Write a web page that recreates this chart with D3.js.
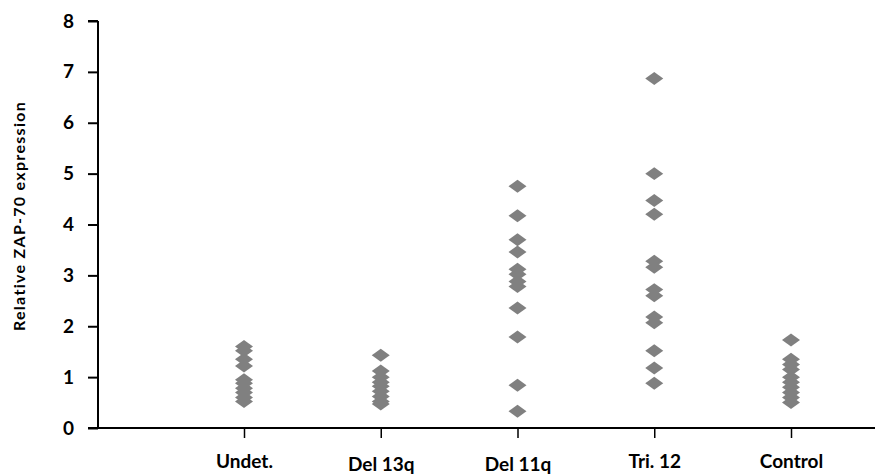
<!DOCTYPE html>
<html>
<head>
<meta charset="utf-8">
<script src="https://cdn.jsdelivr.net/npm/d3@7.9.0/dist/d3.min.js"></script>
<style>
  body { margin: 0; background: #fff; }
  svg { display: block; font-family: Lato, "Open Sans", sans-serif; font-weight: bold; }
</style>
</head>
<body>
<svg width="875" height="476"></svg>
<script>
// groups on the x axis
const categories = ['Undet.', 'Del 13q', 'Del 11q', 'Tri. 12', 'Control'];

// relative ZAP-70 expression per group
const undet = [1.6, 1.52, 1.35, 1.22, 0.95, 0.88, 0.78, 0.7, 0.6, 0.52];
const del13q = [1.43, 1.12, 1.0, 0.9, 0.82, 0.72, 0.62, 0.52, 0.47];
const del11q = [4.75, 4.17, 3.7, 3.46, 3.12, 3.02, 2.88, 2.78, 2.36, 1.79, 0.84, 0.33];
const tri12 = [6.87, 5.0, 4.47, 4.2, 3.28, 3.16, 2.72, 2.6, 2.18, 2.07, 1.52, 1.18, 0.88];
const control = [1.73, 1.35, 1.25, 1.15, 1.0, 0.9, 0.8, 0.7, 0.6, 0.5];

const yTicks = [0, 1, 2, 3, 4, 5, 6, 7, 8];
const yTitle = 'Relative ZAP-70 expression';

const groups = [undet, del13q, del11q, tri12, control];
let points = [];
groups.forEach((vals, i) => {
  vals.forEach(v => points.push({ cat: categories[i], value: v }));
});

const svg = d3.select('svg');
const x = d3.scalePoint().domain(categories).range([244, 791]);
const y = d3.scaleLinear().domain([0, 8]).range([428, 21]);

// y axis
const yAxis = svg.append('g')
  .attr('transform', 'translate(98,0)')
  .call(d3.axisLeft(y).tickValues(yTicks).tickSize(10).tickSizeOuter(0).tickPadding(14));
yAxis.select('.domain').attr('stroke', '#000').attr('stroke-width', 2)
  .attr('d', `M0,${y(8)}H-10M0,${y(8)}V${y(0)}`);
yAxis.selectAll('.tick line').attr('stroke', '#000').attr('stroke-width', 2);
yAxis.selectAll('.tick text')
  .attr('font-size', 19)
  .attr('font-family', 'Lato, sans-serif')
  .attr('font-weight', 'bold')
  .attr('fill', '#000');

// x axis, line runs to the right edge
svg.append('line')
  .attr('x1', 88).attr('x2', 875)
  .attr('y1', y(0)).attr('y2', y(0))
  .attr('stroke', '#000').attr('stroke-width', 2);

const xAxis = svg.append('g')
  .attr('transform', `translate(0,${y(0)})`)
  .call(d3.axisBottom(x).tickSize(10).tickPadding(17));
xAxis.select('.domain').remove();
xAxis.selectAll('.tick line').attr('stroke', '#000').attr('stroke-width', 1.5);
xAxis.selectAll('.tick text')
  .attr('font-size', 19)
  .attr('font-family', 'Lato, sans-serif')
  .attr('font-weight', 'bold')
  .attr('fill', '#000')
  .attr('dy', (d, i) => (i === 1 || i === 2) ? '0.82em' : '0.71em');

// y title
svg.append('text')
  .attr('transform', `translate(25,${216}) rotate(-90)`)
  .attr('text-anchor', 'middle')
  .attr('font-size', 16)
  .attr('letter-spacing', 1.3)
  .text(yTitle);

// wide diamond marker
const wideDiamond = {
  draw(ctx, size) {
    const hx = Math.sqrt(size / 1.44);
    const hy = hx * 0.72;
    ctx.moveTo(0, -hy);
    ctx.lineTo(hx, 0);
    ctx.lineTo(0, hy);
    ctx.lineTo(-hx, 0);
    ctx.closePath();
  }
};
const marker = d3.symbol().type(wideDiamond).size(117);

svg.append('g')
  .selectAll('path')
  .data(points)
  .enter()
  .append('path')
  .attr('d', marker)
  .attr('transform', d => `translate(${x(d.cat)},${y(d.value)})`)
  .attr('fill', '#808080');
</script>
</body>
</html>
